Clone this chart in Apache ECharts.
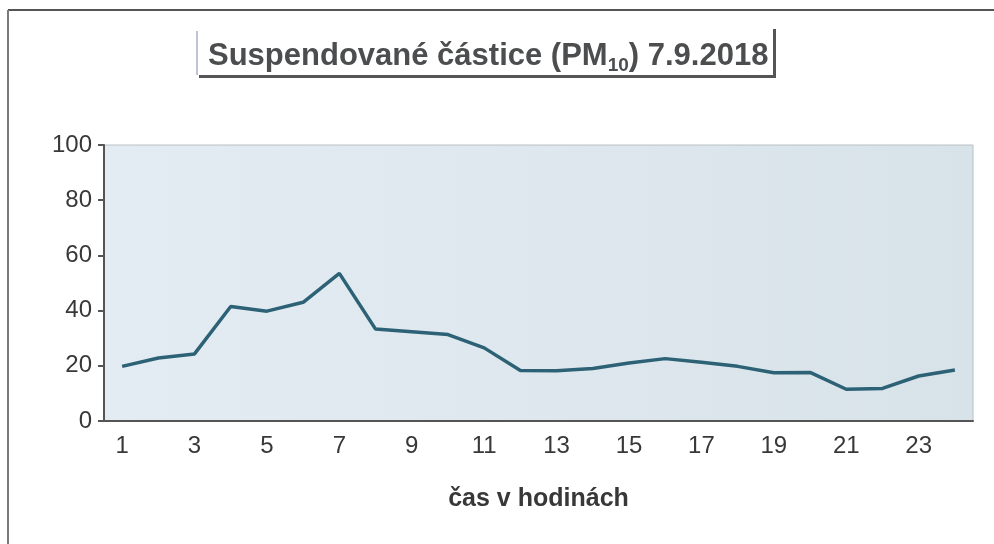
<!DOCTYPE html>
<html>
<head>
<meta charset="utf-8">
<script src="https://cdn.jsdelivr.net/npm/echarts@6/dist/echarts.min.js"></script>
<style>
  html, body { margin: 0; padding: 0; background: #fff; }
  #main { width: 994px; height: 544px; }
</style>
</head>
<body>
<div id="main"></div>
<script>
// hodiny 1..24
var hours = ['1','2','3','4','5','6','7','8','9','10','11','12','13','14','15','16','17','18','19','20','21','22','23','24'];
// PM10 hodnoty
var pm10 = [19.8, 22.8, 24.3, 41.5, 39.8, 43.0, 53.5, 33.3, 32.3, 31.3, 26.5, 18.3,
            18.2, 19.0, 21.0, 22.6, 21.3, 19.8, 17.5, 17.6, 11.5, 11.8, 16.3, 18.5];
var yTicks = [0, 20, 40, 60, 80, 100];

var textColor = '#383838';
var chart = echarts.init(document.getElementById('main'));

var option = {
    animation: false,
    backgroundColor: '#fff',
    title: {
        text: '{a|Suspendované částice (PM}{b|10}{a|) 7.9.2018}',
        left: 203,
        top: 32,
        textStyle: {
            rich: {
                a: { fontFamily: 'Liberation Sans', fontWeight: 'bold', fontSize: 31, lineHeight: 38, color: '#4c4d4e' },
                b: { fontFamily: 'Liberation Sans', fontWeight: 'bold', fontSize: 19, lineHeight: 19, color: '#4c4d4e', verticalAlign: 'bottom' }
            }
        }
    },
    grid: {
        left: 104,
        right: 21,
        top: 145,
        bottom: 123,
        show: true,
        borderColor: '#b9c0c4',
        borderWidth: 1,
        backgroundColor: {
            type: 'linear', x: 0, y: 0, x2: 1, y2: 0,
            colorStops: [{ offset: 0, color: '#e3ecf2' }, { offset: 1, color: '#d8e3e9' }]
        }
    },
    xAxis: {
        type: 'category',
        data: hours,
        boundaryGap: true,
        name: 'čas v hodinách',
        nameLocation: 'middle',
        nameGap: 66,
        nameTextStyle: { fontFamily: 'Liberation Sans', fontWeight: 'bold', fontSize: 25, color: textColor },
        axisLine: { lineStyle: { color: '#555', width: 2 } },
        axisTick: { interval: 0, length: 6, lineStyle: { color: '#555', width: 2 } },
        axisLabel: { interval: 1, margin: 13, fontFamily: 'Liberation Sans', fontSize: 24, color: textColor }
    },
    yAxis: {
        type: 'value',
        min: yTicks[0],
        max: yTicks[yTicks.length - 1],
        interval: 20,
        axisLine: { show: true, lineStyle: { color: '#555', width: 2 } },
        axisTick: { show: true, length: 6, lineStyle: { color: '#555', width: 2 } },
        splitLine: { show: false },
        axisLabel: { margin: 12, fontFamily: 'Liberation Sans', fontSize: 24, color: textColor }
    },
    series: [{
        type: 'line',
        data: pm10,
        symbol: 'none',
        lineStyle: { color: '#2d6276', width: 3.5 }
    }],
    graphic: [
        // vnější rámeček
        { type: 'line', shape: { x1: 8, y1: 10, x2: 994, y2: 10 }, style: { stroke: '#555', lineWidth: 2 } },
        { type: 'line', shape: { x1: 8, y1: 10, x2: 8, y2: 544 }, style: { stroke: '#7a7a7a', lineWidth: 2 } },
        // rámeček nadpisu
        { type: 'line', shape: { x1: 197, y1: 31, x2: 197, y2: 75 }, style: { stroke: '#7f88a8', lineWidth: 1 } },
        { type: 'line', shape: { x1: 199, y1: 76.5, x2: 776, y2: 76.5 }, style: { stroke: '#555', lineWidth: 3 } },
        { type: 'line', shape: { x1: 774.5, y1: 29, x2: 774.5, y2: 78 }, style: { stroke: '#555', lineWidth: 3 } }
    ]
};

chart.setOption(option);
</script>
</body>
</html>
